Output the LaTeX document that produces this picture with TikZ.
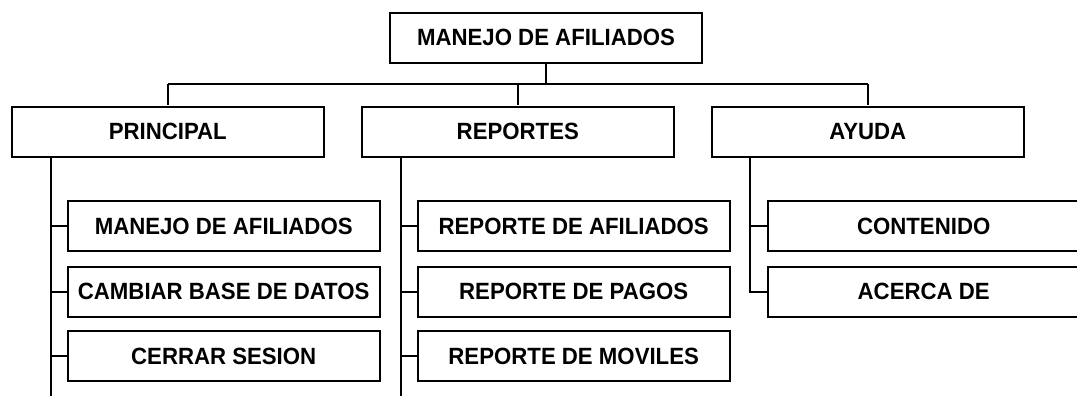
\documentclass[tikz,border=0pt]{standalone}
\usepackage{fontspec}
\newfontfamily\boxfont{Liberation Sans Bold}[FakeStretch=0.945]
\usetikzlibrary{calc}
\begin{document}
\begin{tikzpicture}[x=1pt,y=-1pt,
  box/.style={draw,line width=2pt,minimum width=312pt,minimum height=50pt,inner sep=0pt,
    font=\boxfont\fontsize{23.5}{28}\selectfont},
  conn/.style={line width=2pt}]
\useasboundingbox (0,0) rectangle (1077,396);
\clip (0,0) rectangle (1077,396);
% root
\node[box] (root) at (546,37.7) {MANEJO DE AFILIADOS};
% level 1
\node[box] (p) at (167.8,131.5) {PRINCIPAL};
\node[box] (r) at (517.8,131.5) {REPORTES};
\node[box] (a) at (867.8,131.5) {AYUDA};
% children
\node[box] (p1) at (223.7,226) {MANEJO DE AFILIADOS};
\node[box] (p2) at (223.7,291.5) {CAMBIAR BASE DE DATOS};
\node[box] (p3) at (223.7,356) {CERRAR SESION};
\node[box] (r1) at (573.7,226) {REPORTE DE AFILIADOS};
\node[box] (r2) at (573.7,291.5) {REPORTE DE PAGOS};
\node[box] (r3) at (573.7,356) {REPORTE DE MOVILES};
\node[box] (a1) at (923.7,226) {CONTENIDO};
\node[box] (a2) at (923.7,291.5) {ACERCA DE};
% top bus
\coordinate (topbus) at (546,84.3);
\draw[conn] (root.south) -- (topbus);
\draw[conn] (p.north |- topbus) -- (a.north |- topbus);
\draw[conn] (p.north |- topbus) -- (p.north);
\draw[conn] (r.north |- topbus) -- (r.north);
\draw[conn] (a.north |- topbus) -- (a.north);
% side buses
\coordinate (pend) at (50.7,396);
\coordinate (rend) at (400.7,396);
\draw[conn] (p.south -| pend) -- (pend);
\draw[conn] (r.south -| rend) -- (rend);
\foreach \c in {p1,p2,p3}{\draw[conn] (\c.west) -- (\c.west -| pend);}
\foreach \c in {r1,r2,r3}{\draw[conn] (\c.west) -- (\c.west -| rend);}
\coordinate (abus) at ($(a2.west)+(-17,0)$);
\draw[conn] (a.south -| abus) -- (abus) -- (a2.west);
\draw[conn] (a1.west) -- (a1.west -| abus);
\end{tikzpicture}
\end{document}
